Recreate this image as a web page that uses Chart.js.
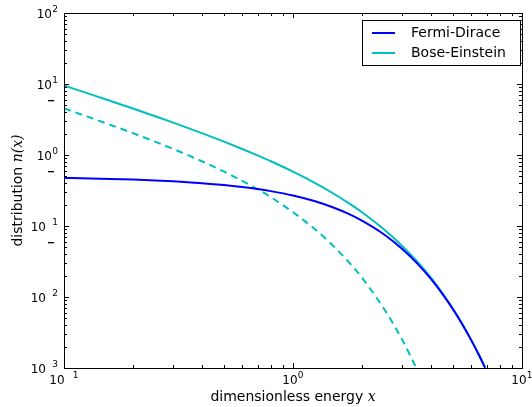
<!DOCTYPE html>
<html>
<head>
<meta charset="utf-8">
<script src="https://cdn.jsdelivr.net/npm/chart.js@4/dist/chart.umd.min.js"></script>
<style>
html,body{margin:0;padding:0;background:#fff;}
#wrap{width:532px;height:407px;}
</style>
</head>
<body>
<div id="wrap"><canvas id="c" width="532" height="407"></canvas></div>
<script>
// ---- data ----
const energyX = [0.1, 0.13, 0.16, 0.2, 0.25, 0.3, 0.4, 0.5, 0.6, 0.7, 0.8, 1.0, 1.25, 1.5, 1.75, 2.0, 2.5, 3.0, 3.5, 4.0, 4.5, 5.0, 5.5, 6.0, 6.5, 6.9];
const fermiDirac = [0.475, 0.4675, 0.460, 0.450, 0.438, 0.426, 0.401, 0.3775, 0.354, 0.332, 0.310, 0.269, 0.223, 0.182, 0.148, 0.119, 0.0759, 0.0474, 0.0293, 0.0180, 0.0110, 0.00669, 0.00407, 0.00247, 0.00150, 0.00101];
const boseEinstein = [9.51, 7.20, 5.76, 4.52, 3.52, 2.86, 2.03, 1.54, 1.216, 0.986, 0.816, 0.582, 0.402, 0.287, 0.210, 0.1565, 0.0894, 0.0524, 0.0311, 0.0187, 0.0112, 0.00678, 0.00410, 0.00249, 0.00151, 0.00101];
const dashedX = [0.1, 0.13, 0.16, 0.2, 0.25, 0.3, 0.4, 0.5, 0.6, 0.7, 0.8, 1.0, 1.25, 1.5, 1.75, 2.0, 2.5, 3.0, 3.45];
const dashedValues = [4.52, 3.37, 2.65, 2.03, 1.54, 1.216, 0.816, 0.582, 0.431, 0.330, 0.255, 0.1565, 0.0894, 0.0524, 0.0311, 0.0187, 0.00678, 0.00249, 0.00101];
const seriesLabels = ["Fermi-Dirace", "Bose-Einstein"];
const xTickValues = [0.1, 1, 10];
const xTickExponents = ["1", "0", "1"];
const yTickValues = [100, 10, 1, 0.1, 0.01, 0.001];
const yTickExponents = ["2", "1", "0", "1", "2", "3"];
const xTitle = "dimensionless energy ";
const xTitleMath = "x";
const yTitle = "distribution ";
const yTitleMath = "n(x)";

const BLUE = "#0000ff";
const CYAN = "#00bfbf";

function pts(xs, ys){ return xs.map((x,i)=>({x:x, y:ys[i]})); }

const FONT = "'DejaVu Sans', sans-serif";
const MATH = "italic 14px 'DejaVu Serif', serif";

const decorPlugin = {
  id: 'decor',
  afterDraw(chart){
    const ctx = chart.ctx;
    const a = chart.chartArea;
    const xs = chart.scales.x, ys = chart.scales.y;
    ctx.save();
    ctx.strokeStyle = "#000";
    ctx.lineWidth = 1;
    function minorList(min, max){
      const out=[];
      for(let d=min; d<max*0.999; d*=10){
        for(let k=1;k<10;k++){ out.push({v:d*k, major:k===1}); }
      }
      out.push({v:max, major:true});
      return out;
    }
    ctx.beginPath();
    minorList(0.1,10).forEach(t=>{
      const px = Math.round(xs.getPixelForValue(t.v))+0.5;
      const L = t.major?5:3;
      ctx.moveTo(px, a.bottom); ctx.lineTo(px, a.bottom-L);
      ctx.moveTo(px, a.top); ctx.lineTo(px, a.top+L);
    });
    minorList(0.001,100).forEach(t=>{
      const py = Math.round(ys.getPixelForValue(t.v))+0.5;
      const L = t.major?5:3;
      ctx.moveTo(a.left, py); ctx.lineTo(a.left+L, py);
      ctx.moveTo(a.right, py); ctx.lineTo(a.right-L, py);
    });
    ctx.stroke();
    ctx.strokeRect(Math.round(a.left)+0.5, Math.round(a.top)+0.5, Math.round(a.right-a.left), Math.round(a.bottom-a.top));

    ctx.fillStyle = "#000";
    ctx.textBaseline = "alphabetic";
    // y tick labels
    yTickValues.forEach((v,i)=>{
      const py = ys.getPixelForValue(v);
      const neg = v < 1;
      const supW = 5;
      const right = a.left - 6;
      ctx.font = "9px " + FONT;
      ctx.textAlign = "right";
      ctx.fillText(yTickExponents[i], right, py - 1);
      ctx.font = "12px " + FONT;
      const baseRight = neg ? right - 12 : right - supW - 1;
      ctx.fillText("10", baseRight, py + 5);
    });
    // stray minus dashes
    [10, 1, 0.1].forEach(v=>{
      const py = Math.round(ys.getPixelForValue(v)) + 16;
      ctx.fillRect(48, py, 6, 1.3);
    });
    // x tick labels
    xTickValues.forEach((v,i)=>{
      const px = xs.getPixelForValue(v);
      const neg = v < 1;
      ctx.font = "12px " + FONT;
      const wBase = ctx.measureText("10").width;
      const gap = neg ? 8 : 0;
      const wSup = 6;
      const total = wBase + gap + wSup;
      const left = px - total/2;
      ctx.textAlign = "left";
      ctx.fillText("10", left, a.bottom + 16);
      ctx.font = "9px " + FONT;
      ctx.fillText(xTickExponents[i], left + wBase + gap, a.bottom + 10);
    });
    // x title
    ctx.font = "14px " + FONT;
    const w1 = ctx.measureText(xTitle).width;
    ctx.font = MATH;
    const w2 = ctx.measureText(xTitleMath).width;
    const cx = (a.left + a.right)/2;
    let sx = cx - (w1+w2)/2;
    ctx.textAlign = "left";
    ctx.font = "14px " + FONT;
    ctx.fillText(xTitle, sx, 401);
    ctx.font = MATH;
    ctx.fillText(xTitleMath, sx + w1, 401);
    // y title
    ctx.save();
    ctx.translate(22, (a.top + a.bottom)/2);
    ctx.rotate(-Math.PI/2);
    ctx.font = "14px " + FONT;
    const v1 = ctx.measureText(yTitle).width;
    ctx.font = MATH;
    const v2 = ctx.measureText(yTitleMath).width;
    const sy = -(v1+v2)/2;
    ctx.font = "14px " + FONT;
    ctx.fillText(yTitle, sy, 0);
    ctx.font = MATH;
    ctx.fillText(yTitleMath, sy + v1, 0);
    ctx.restore();
    // legend
    const lx = 362, ly = 20, lw = 158, lh = 45;
    ctx.fillStyle = "#fff";
    ctx.fillRect(lx, ly, lw, lh);
    ctx.strokeStyle = "#000";
    ctx.lineWidth = 1;
    ctx.strokeRect(lx+0.5, ly+0.5, lw, lh);
    seriesLabels.forEach((lab,i)=>{
      const ds = chart.data.datasets[i];
      const yy = ly + 13 + i*20;
      ctx.strokeStyle = ds.borderColor;
      ctx.lineWidth = 2;
      ctx.beginPath();
      ctx.moveTo(372, yy); ctx.lineTo(395, yy);
      ctx.stroke();
      ctx.fillStyle = "#000";
      ctx.font = "14px " + FONT;
      ctx.textAlign = "left";
      ctx.textBaseline = "middle";
      ctx.fillText(lab, 411, yy);
    });
    ctx.restore();
  }
};

new Chart(document.getElementById('c'), {
  type: 'line',
  data: {
    datasets: [
      {label: seriesLabels[0], data: pts(energyX, fermiDirac), borderColor: BLUE, borderWidth: 2, pointRadius: 0, fill: false, cubicInterpolationMode: 'monotone'},
      {label: seriesLabels[1], data: pts(energyX, boseEinstein), borderColor: CYAN, borderWidth: 2, pointRadius: 0, fill: false, cubicInterpolationMode: 'monotone'},
      {label: "dashed", data: pts(dashedX, dashedValues), borderColor: CYAN, borderWidth: 2, borderDash: [7,5], pointRadius: 0, fill: false, cubicInterpolationMode: 'monotone'}
    ]
  },
  options: {
    responsive: false,
    animation: false,
    layout: {padding: {top: 13, right: 10, left: 0, bottom: 0}},
    plugins: {legend: {display: false}, tooltip: {enabled: false}},
    scales: {
      x: {type: 'logarithmic', min: 0.1, max: 10, grid: {display: false}, border: {display: false}, ticks: {display: false},
          afterFit(s){ s.height = 39; }},
      y: {type: 'logarithmic', min: 0.001, max: 100, grid: {display: false}, border: {display: false}, ticks: {display: false},
          afterFit(s){ s.width = 64; }}
    }
  },
  plugins: [decorPlugin]
});
</script>
</body>
</html>
